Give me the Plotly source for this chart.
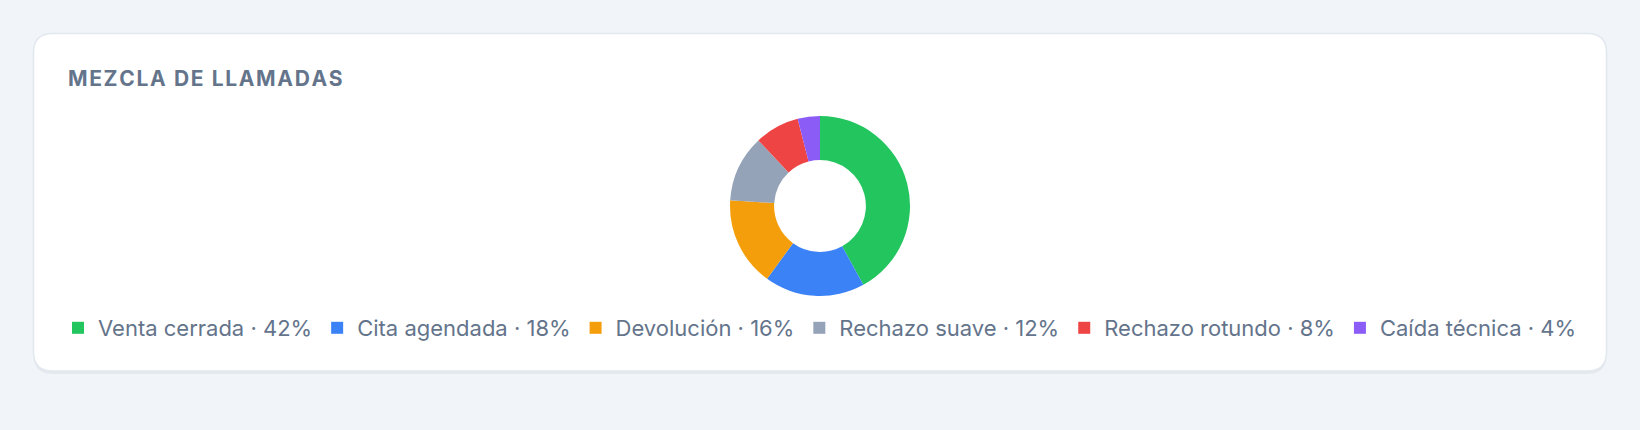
import plotly.graph_objects as go

# call mix shares (percent)
categories = ["Venta cerrada", "Cita agendada", "Devolución", "Rechazo suave", "Rechazo rotundo", "Caída técnica"]
shares = [42, 18, 16, 12, 8, 4]
colors = ["#22c55e", "#3b82f6", "#f59e0b", "#94a3b8", "#ef4444", "#8b5cf6"]
title = "MEZCLA DE LLAMADAS"

W, H = 1640, 430


def px_x(x):
    return x / W


def px_y(y):
    return 1 - y / H


def rounded_rect(x0, y0, x1, y1, r):
    # path in paper coords, built from pixel values
    pts = [
        f"M{px_x(x0 + r)},{px_y(y0)}",
        f"L{px_x(x1 - r)},{px_y(y0)}",
        f"Q{px_x(x1)},{px_y(y0)} {px_x(x1)},{px_y(y0 + r)}",
        f"L{px_x(x1)},{px_y(y1 - r)}",
        f"Q{px_x(x1)},{px_y(y1)} {px_x(x1 - r)},{px_y(y1)}",
        f"L{px_x(x0 + r)},{px_y(y1)}",
        f"Q{px_x(x0)},{px_y(y1)} {px_x(x0)},{px_y(y1 - r)}",
        f"L{px_x(x0)},{px_y(y0 + r)}",
        f"Q{px_x(x0)},{px_y(y0)} {px_x(x0 + r)},{px_y(y0)}",
        "Z",
    ]
    return " ".join(pts)


labels = [f"{c} · {s}%" for c, s in zip(categories, shares)]
# fake letter spacing with hair spaces
spaced_title = "\u200a".join(title)

fig = go.Figure(go.Pie(
    labels=labels,
    values=shares,
    marker=dict(colors=colors, line=dict(width=0)),
    hole=0.51,
    sort=False,
    direction="clockwise",
    rotation=0,
    textinfo="none",
    hoverinfo="label",
    domain=dict(x=[0, 1], y=[px_y(296), px_y(116)]),
))

fig.update_layout(
    width=W,
    height=H,
    margin=dict(l=0, r=0, t=0, b=0),
    paper_bgcolor="#f1f5f9",
    plot_bgcolor="#f1f5f9",
    font=dict(family="Inter, sans-serif", color="#64748b"),
    showlegend=True,
    legend=dict(
        orientation="h",
        x=0.5, xanchor="center",
        y=px_y(328), yanchor="middle",
        font=dict(size=22, color="#64748b"),
        bgcolor="rgba(0,0,0,0)",
        traceorder="normal",
        itemclick=False,
    ),
    shapes=[
        # soft shadow
        dict(type="path", xref="paper", yref="paper", layer="below",
             path=rounded_rect(33.5, 36, 1606.5, 374, 19),
             fillcolor="rgba(15,23,42,0.05)", line=dict(width=0)),
        # card
        dict(type="path", xref="paper", yref="paper", layer="below",
             path=rounded_rect(33.5, 33.5, 1606.5, 371, 19),
             fillcolor="#ffffff", line=dict(color="#e2e8f0", width=1.5)),
    ],
    annotations=[
        dict(text=f"<b>{spaced_title}</b>", xref="paper", yref="paper",
             x=px_x(66), y=px_y(78), xanchor="left", yanchor="middle",
             showarrow=False, font=dict(size=21, color="#64748b")),
    ],
)

fig.write_html(
    "out.html",
    config={"displayModeBar": False},
    post_script="document.body.style.margin='0';document.body.style.background='#f1f5f9';",
)
